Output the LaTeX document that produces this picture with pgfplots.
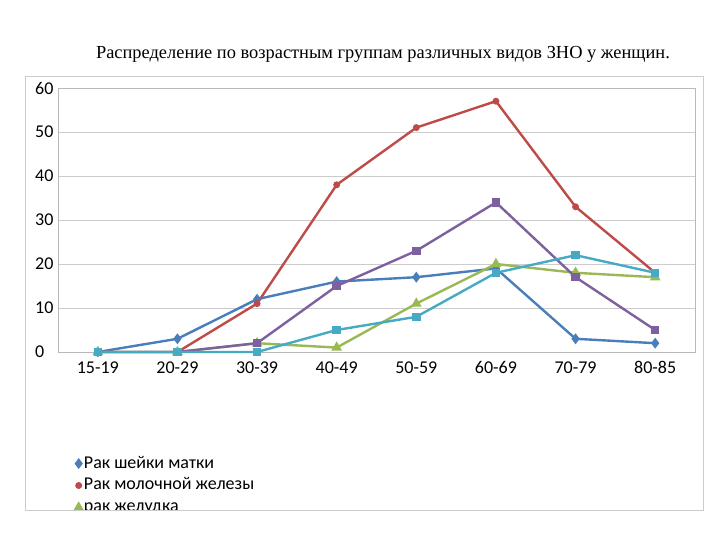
\documentclass[border=0pt]{standalone}
\usepackage{pgfplots}
\pgfplotsset{compat=1.18}
\usepackage{fontspec}
\setmainfont{Carlito}
\newfontfamily\titlefont{Liberation Serif}
\definecolor{cblue}{HTML}{4A7EBB}
\definecolor{cred}{HTML}{BE4B48}
\definecolor{cgreen}{HTML}{98B954}
\definecolor{cpurple}{HTML}{7D60A0}
\definecolor{ccyan}{HTML}{46AAC5}
\begin{document}
\begin{tikzpicture}[x=1bp,y=1bp]
\useasboundingbox (0,0) rectangle (720,540);
\node[font=\titlefont\fontsize{18.4bp}{20bp}\selectfont, anchor=base] at (383,481) {Распределение по возрастным группам различных видов ЗНО у женщин.};
\begin{scope}
\clip (25,30) rectangle (703,464);
\begin{axis}[
  at={(58bp,188bp)}, anchor=south west,
  scale only axis, width=637bp, height=264bp,
  xmin=-0.5, xmax=7.5, ymin=0, ymax=60,
  xtick={0,...,7},
  xticklabels={15-19,20-29,30-39,40-49,50-59,60-69,70-79,80-85},
  ytick={0,10,...,60},
  major tick length=0pt,
  axis line style={gray!55},
  ymajorgrids, grid style={gray!40, line width=0.8bp},
  tick label style={font=\fontsize{18bp}{20bp}\selectfont},
  /pgf/number format/assume math mode=true,
  yticklabel style={anchor=west, inner sep=0pt, xshift=-23bp},
  xticklabel style={yshift=-6bp},
  clip=false,
  every axis plot/.append style={line width=2.4bp},
  legend style={at={(axis description cs:0.027,-0.38)}, anchor=north west,
    draw=none, fill=none, font=\fontsize{18bp}{20bp}\selectfont,
    row sep=0bp, inner sep=0pt,
    nodes={text height=13.5bp, text depth=4.5bp}},
  legend cell align=left,
  legend image code/.code={\draw[#1, only marks] plot coordinates {(0.1cm,0cm)};},
]
\addplot[cblue, mark=diamond*, mark size=3.5bp] coordinates {(0,0)(1,3)(2,12)(3,16)(4,17)(5,19)(6,3)(7,2)};
\addlegendentry{Рак шейки матки}
\addplot[cred, mark=*, mark size=2.2bp] coordinates {(0,0)(1,0)(2,11)(3,38)(4,51)(5,57)(6,33)(7,18)};
\addlegendentry{Рак молочной железы}
\addplot[cgreen, mark=triangle*, mark size=3.8bp] coordinates {(0,0)(1,0)(2,2)(3,1)(4,11)(5,20)(6,18)(7,17)};
\addlegendentry{рак желудка}
\addplot[cpurple, mark=square*, mark size=3bp] coordinates {(0,0)(1,0)(2,2)(3,15)(4,23)(5,34)(6,17)(7,5)};
\addlegendentry{рак яичников}
\addplot[ccyan, mark=square*, mark size=3bp] coordinates {(0,0)(1,0)(2,0)(3,5)(4,8)(5,18)(6,22)(7,18)};
\addlegendentry{рак тела матки}
\end{axis}
\end{scope}
\draw[gray!40, line width=0.8bp] (25,30) rectangle (703,464);
\end{tikzpicture}
\end{document}
